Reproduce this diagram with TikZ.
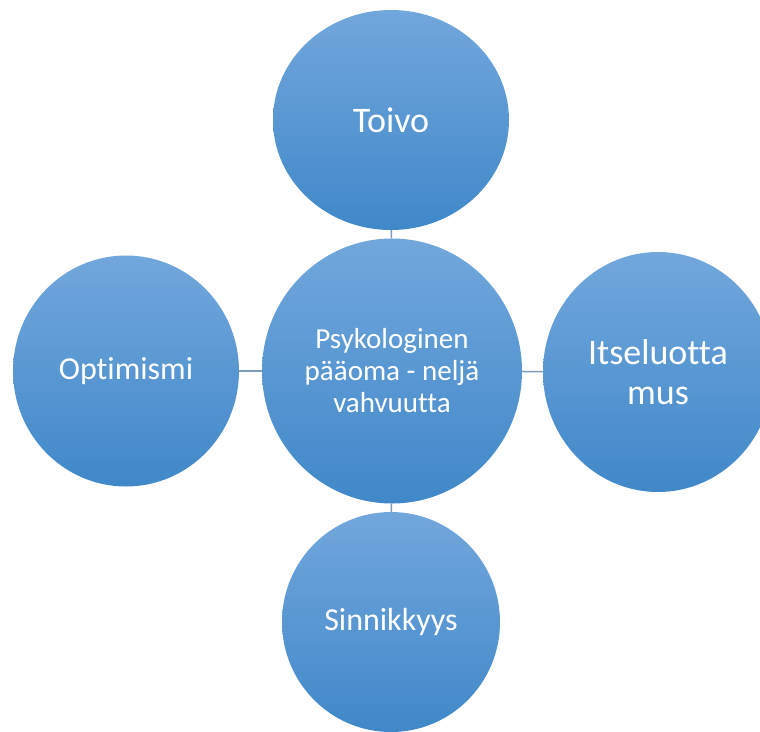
\documentclass[tikz,border=0pt]{standalone}
\usepackage{fontspec}
\setmainfont{Carlito}[RawFeature={-liga;-clig;-calt;-dlig}]
\usetikzlibrary{shapes.geometric}

\definecolor{balltop}{RGB}{114,167,220}
\definecolor{ballbottom}{RGB}{64,136,201}
\definecolor{linkgray}{RGB}{124,157,190}

\tikzset{
    ball/.style={ellipse, inner sep=0pt, top color=balltop, bottom color=ballbottom,
        text=white, align=center},
    link/.style={linkgray, line width=1.5pt}
}

\begin{document}
\begin{tikzpicture}[x=1pt, y=-1pt]
    \useasboundingbox (0, 0) rectangle (760, 731);

    % Center
    \node[ball, minimum width=260pt, minimum height=265pt,
        font=\fontsize{29}{32}\selectfont] (paaoma) at (392, 371)
        {Psykologinen\\pääoma - neljä\\vahvuutta};

    % Top
    \node[ball, minimum width=236pt, minimum height=220pt,
        font=\fontsize{36}{40}\selectfont] (toivo) at (391, 120) {Toivo};

    % Left
    \node[ball, minimum width=226pt, minimum height=231pt,
        font=\fontsize{32}{38}\selectfont] (optimismi) at (126, 371) {Optimismi};

    % Right
    \node[ball, minimum width=230pt, minimum height=240pt,
        font=\fontsize{36}{40}\selectfont] (itseluottamus) at (658, 372) {Itseluotta\\mus};

    % Bottom
    \node[ball, minimum width=218pt, minimum height=220pt,
        font=\fontsize{32}{38}\selectfont] (sinnikkyys) at (391, 622) {Sinnikkyys};

    % Links
    \draw[link] (paaoma) -- (toivo);
    \draw[link] (paaoma) -- (optimismi);
    \draw[link] (paaoma) -- (itseluottamus);
    \draw[link] (paaoma) -- (sinnikkyys);
\end{tikzpicture}
\end{document}
